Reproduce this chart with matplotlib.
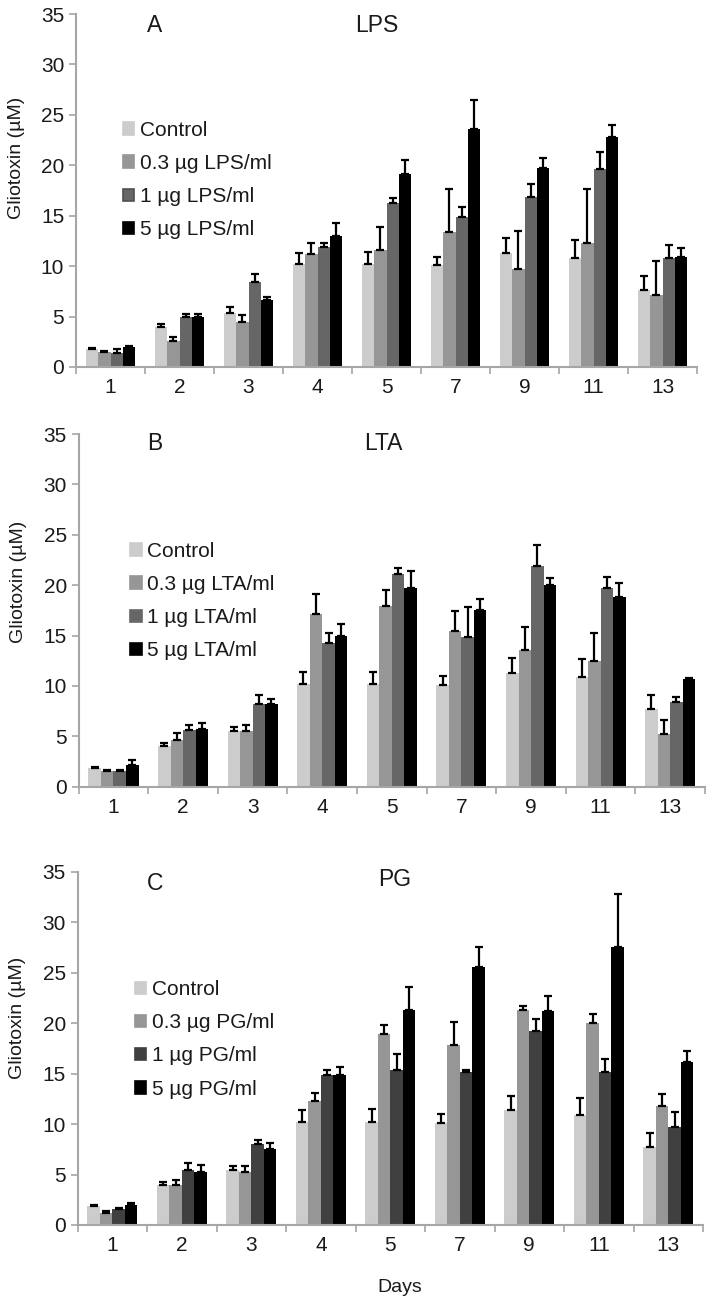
import matplotlib
matplotlib.use("Agg")
import matplotlib.pyplot as plt
from matplotlib.patches import Patch
import numpy as np

plt.rcParams["font.family"] = ["Liberation Sans", "DejaVu Sans"]

# ---- data ----
days = ["1", "2", "3", "4", "5", "7", "9", "11", "13"]

lps_mean = [
    [1.8, 4.0, 5.4, 10.2, 10.2, 10.1, 11.3, 10.8, 7.6],
    [1.5, 2.6, 4.5, 11.2, 11.6, 13.4, 9.7, 12.3, 7.1],
    [1.4, 5.0, 8.4, 11.9, 16.3, 14.9, 16.9, 19.6, 10.8],
    [2.0, 5.0, 6.6, 13.0, 19.1, 23.6, 19.7, 22.8, 10.9],
]
lps_err = [
    [0.1, 0.3, 0.5, 1.1, 1.2, 0.8, 1.5, 1.8, 1.4],
    [0.1, 0.4, 0.7, 1.1, 2.3, 4.2, 3.8, 5.3, 3.4],
    [0.35, 0.3, 0.8, 0.4, 0.5, 1.0, 1.2, 1.7, 1.3],
    [0.1, 0.3, 0.3, 1.3, 1.4, 2.9, 1.0, 1.2, 0.9],
]

lta_mean = [
    [1.9, 4.0, 5.5, 10.2, 10.2, 10.1, 11.3, 10.9, 7.7],
    [1.6, 4.6, 5.5, 17.1, 17.9, 15.5, 13.6, 12.5, 5.2],
    [1.6, 5.6, 8.2, 14.3, 21.1, 14.9, 21.9, 19.7, 8.4],
    [2.2, 5.7, 8.2, 15.0, 19.7, 17.5, 20.0, 18.8, 10.7],
]
lta_err = [
    [0.05, 0.3, 0.4, 1.2, 1.2, 0.9, 1.5, 1.8, 1.4],
    [0.05, 0.7, 0.6, 2.0, 1.6, 1.9, 2.2, 2.8, 1.4],
    [0.05, 0.5, 0.9, 1.0, 0.6, 2.9, 2.1, 1.1, 0.5],
    [0.4, 0.6, 0.5, 1.1, 1.7, 1.1, 0.7, 1.4, 0.1],
]

pg_mean = [
    [1.9, 4.0, 5.4, 10.2, 10.2, 10.1, 11.4, 10.9, 7.7],
    [1.2, 4.0, 5.3, 12.3, 18.9, 17.8, 21.3, 20.0, 11.8],
    [1.55, 5.4, 8.0, 14.9, 15.4, 15.2, 19.2, 15.2, 9.7],
    [2.0, 5.3, 7.5, 14.9, 21.3, 25.6, 21.2, 27.5, 16.1],
]
pg_err = [
    [0.1, 0.3, 0.4, 1.2, 1.3, 0.9, 1.4, 1.7, 1.4],
    [0.2, 0.5, 0.5, 0.8, 0.9, 2.3, 0.4, 0.9, 1.2],
    [0.15, 0.7, 0.4, 0.5, 1.5, 0.2, 1.2, 1.2, 1.5],
    [0.15, 0.6, 0.6, 0.8, 2.3, 1.9, 1.5, 5.3, 1.1],
]

W, H = 712, 1306
fig = plt.figure(figsize=(W / 100, H / 100), dpi=100)

AXIS_GRAY = "#a6a6a6"
TXT = "#1a1a1a"
BAR_W = 0.18


def px_axes(left, top, right, bottom):
    return fig.add_axes([left / W, 1 - bottom / H, (right - left) / W, (bottom - top) / H])


def fig_text(xp, yp, s, **kw):
    fig.text(xp / W, 1 - yp / H, s, **kw)


def panel(ax, means, errs, colors, agent, ylab_y, leg_xy, leg_edge=None):
    x = np.arange(len(days)) + 0.5
    for i in range(4):
        ax.bar(x + (i - 1.5) * BAR_W, means[i], BAR_W, color=colors[i], zorder=2)
        ax.errorbar(x + (i - 1.5) * BAR_W, means[i], yerr=[np.zeros(len(days)), errs[i]],
                    fmt="none", ecolor="black", elinewidth=1.6, capsize=2.6, capthick=1.6, zorder=3)
    ax.set_xlim(0, len(days))
    ax.set_ylim(0, 35)
    ax.set_yticks(range(0, 36, 5))
    # major ticks between categories, labels on minor ticks at centres
    ax.set_xticks(np.arange(len(days) + 1))
    ax.set_xticklabels([])
    ax.set_xticks(x, minor=True)
    ax.set_xticklabels(days, minor=True)
    ax.tick_params(axis="x", which="major", length=5, width=1.2, color=AXIS_GRAY, direction="out")
    ax.tick_params(axis="x", which="minor", length=0, pad=8, labelsize=15, labelcolor=TXT)
    ax.tick_params(axis="y", length=5, width=1.2, color=AXIS_GRAY, pad=3.5, labelsize=15, labelcolor=TXT)
    for s in ["top", "right"]:
        ax.spines[s].set_visible(False)
    for s in ["left", "bottom"]:
        ax.spines[s].set_color(AXIS_GRAY)
        ax.spines[s].set_linewidth(1.5)
    ax.text(-0.096, ylab_y, "Gliotoxin (µM)", rotation=90, ha="center", va="center",
            fontsize=14, color=TXT, transform=ax.transAxes)
    labels = ["Control", f"0.3 µg {agent}/ml", f"1 µg {agent}/ml", f"5 µg {agent}/ml"]
    handles = []
    for i in range(4):
        ec = colors[i] if leg_edge is None or leg_edge[i] is None else leg_edge[i]
        handles.append(Patch(facecolor=colors[i], edgecolor=ec, linewidth=1.2))
    ax.legend(handles, labels, loc="upper left", bbox_to_anchor=leg_xy, frameon=False,
              fontsize=15, handlelength=0.55, handleheight=0.55, handletextpad=0.28,
              labelspacing=0.68, borderaxespad=0, borderpad=0, labelcolor=TXT)


colors_ab = ["#cccccc", "#969696", "#666666", "#000000"]
colors_c = ["#cccccc", "#969696", "#404040", "#000000"]

# panel A - LPS
axA = px_axes(76, 14, 697, 367)
panel(axA, lps_mean, lps_err, colors_ab, "LPS", 0.592, (0.0757, 0.697),
      leg_edge=[None, None, "#505050", None])
# panel B - LTA
axB = px_axes(78.7, 434, 705, 786.7)
panel(axB, lta_mean, lta_err, colors_ab, "LTA", 0.580, (0.082, 0.694))
# panel C - PG
axC = px_axes(77.7, 871.7, 703, 1225)
panel(axC, pg_mean, pg_err, colors_c, "PG", 0.586, (0.0916, 0.693))

fig_text(155, 25, "A", fontsize=16.5, ha="center", va="center", color=TXT)
fig_text(377, 25, "LPS", fontsize=16.5, ha="center", va="center", color=TXT)
fig_text(155, 444, "B", fontsize=16.5, ha="center", va="center", color=TXT)
fig_text(383, 444, "LTA", fontsize=16.5, ha="center", va="center", color=TXT)
fig_text(155, 884, "C", fontsize=16.5, ha="center", va="center", color=TXT)
fig_text(395, 879, "PG", fontsize=16.5, ha="center", va="center", color=TXT)
fig_text(400, 1288, "Days", fontsize=14, ha="center", va="center", color=TXT)

fig.savefig("out.png", dpi=100)
